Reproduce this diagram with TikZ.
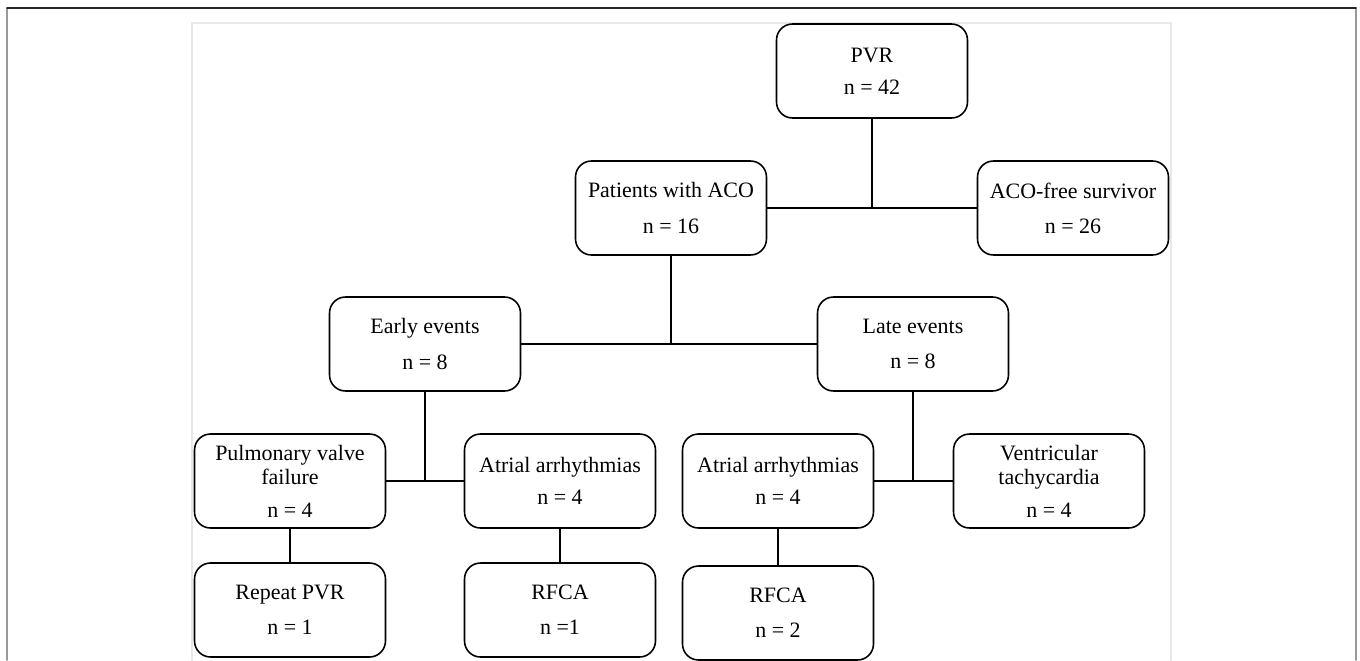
\documentclass[tikz,border=0pt]{standalone}
\usepackage{fontspec}
\setmainfont{Liberation Serif}
\tikzset{
	box/.style={draw,rounded corners=0.32cm,line width=0.9pt,minimum width=3.82cm,minimum height=1.88cm,align=center,inner sep=2pt,font=\fontsize{12.5}{14}\selectfont},
	link/.style={line width=1.1pt}
}
\begin{document}
\begin{tikzpicture}[line cap=round,line join=round,x=0.02cm,y=-0.02cm]
		\useasboundingbox (0,0) rectangle (1360,660);
		\draw[gray!80,line width=1.1pt] (7,660)--(7,8);
		\draw[gray!80,line width=1.1pt] (1356,8)--(1356,660);
		\draw[black!85,line width=1.1pt] (7,8)--(1356,8);
		\draw[gray!18,line width=1.6pt] (192,660)--(192,23)--(1171,23)--(1171,660);
		\node[box] (pvr) at (872,71) {PVR\\[4.3pt]n = 42};
		\node[box] (aco) at (671,208) {Patients with ACO\\[6pt]n = 16};
		\node[box] (free) at (1073,208) {ACO-free survivor\\[6pt]n = 26};
		\node[box] (early) at (425,344) {Early events\\[6pt]n = 8};
		\node[box] (late) at (913,344) {Late events\\[6pt]n = 8};
		\node[box] (pvf) at (290,481) {Pulmonary valve\\failure\\[4.3pt]n = 4};
		\node[box] (aa1) at (560,481) {Atrial arrhythmias\\[4.3pt]n = 4};
		\node[box] (aa2) at (778,481) {Atrial arrhythmias\\[4.3pt]n = 4};
		\node[box] (vt) at (1049,481) {Ventricular\\tachycardia\\[4.3pt]n = 4};
		\node[box] (rpvr) at (290,610) {Repeat PVR\\[6pt]n = 1};
		\node[box] (rfca1) at (560,610) {RFCA\\[6pt]n =1};
		\node[box] (rfca2) at (778,613) {RFCA\\[6pt]n = 2};
		\draw[link] (aco.east)--(free.west);
		\draw[link] (pvr.south)--(pvr.south |- aco.east);
		\draw[link] (early.east)--(late.west);
		\draw[link] (aco.south)--(aco.south |- early.east);
		\draw[link] (pvf.east)--(aa1.west);
		\draw[link] (early.south)--(early.south |- pvf.east);
		\draw[link] (aa2.east)--(vt.west);
		\draw[link] (late.south)--(late.south |- aa2.east);
		\draw[link] (pvf.south)--(rpvr.north);
		\draw[link] (aa1.south)--(rfca1.north);
		\draw[link] (aa2.south)--(rfca2.north);
		\end{tikzpicture}
\end{document}
